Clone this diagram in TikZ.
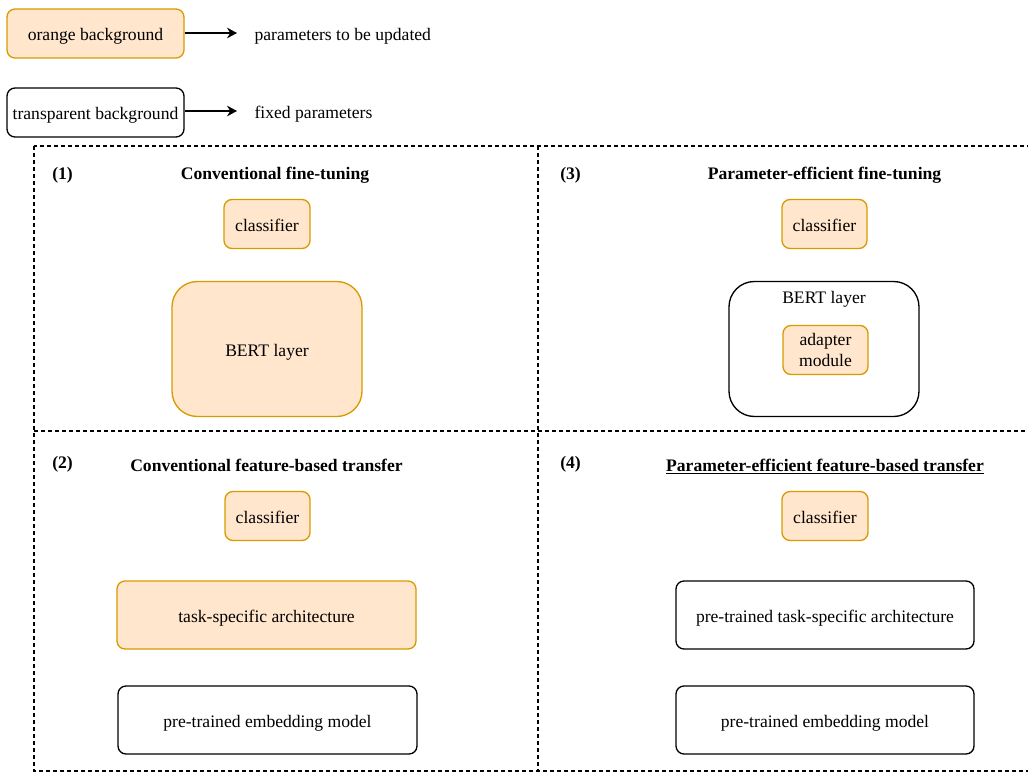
\documentclass[tikz,border=0pt]{standalone}
\usepackage{fontspec}
\setmainfont{Liberation Serif}
\usetikzlibrary{arrows.meta}
\definecolor{ofill}{HTML}{FFE6CC}
\definecolor{odraw}{HTML}{D79B00}
\tikzset{
  sz/.style 2 args={minimum width=#1*0.75pt, minimum height=#2*0.75pt},
  base/.style={draw, rounded corners=6pt, line width=1pt, inner sep=0pt, align=center,
    font=\fontsize{13.2}{15.5}\selectfont},
  oneline/.style={text height=11pt, text depth=0pt},
  orangebox/.style={base, oneline, fill=ofill, draw=odraw},
  plainbox/.style={base, oneline, fill=white, draw=black},
  twoline/.style={text height=, text depth=},
  bigcorner/.style={rounded corners=19pt},
  txt/.style={font=\fontsize{13.2}{15.5}\selectfont, inner sep=0pt, oneline},
  ttl/.style={font=\fontsize{13.2}{15.5}\selectfont\bfseries, inner sep=0pt, oneline},
  frame/.style={dash pattern=on 3pt off 2.25pt, line width=0.8pt},
  legarrow/.style={-{Stealth[length=7.5pt,width=8pt]}, line width=1pt},
}
\begin{document}
\begin{tikzpicture}[x=0.75pt,y=-0.75pt]
\useasboundingbox (0,0) rectangle (1028,774);
\clip (0,0) rectangle (1028,774);
% legend
\node[orangebox, sz={177}{49}] (leg1) at (95.5,33.5) {orange background};
\node[plainbox, sz={177}{49}] (leg2) at (95.5,112.5) {transparent background};
\node[txt, anchor=west, inner xsep=13pt] (t1) at (237,33) {parameters to be updated};
\node[txt, anchor=west, inner xsep=13pt] (t2) at (237,111) {fixed parameters};
\draw[legarrow] (leg1.east |- t1) -- (t1);
\draw[legarrow] (leg2.east |- t2) -- (t2);
% frame
\draw[frame] (34,146) rectangle (1045,771);
\coordinate (vtop) at (538,146);
\coordinate (vbot) at (538,771);
\coordinate (hl) at (34,431);
\coordinate (hr) at (1045,431);
\draw[frame] (vtop) -- (vbot);
\draw[frame] (hl) -- (hr);
% panel 1
\node[ttl, anchor=west] (n1) at (52,172) {(1)};
\node[ttl] (title1) at (275,172) {Conventional fine-tuning};
\node[orangebox, sz={86}{49}] (cls1) at (267,224) {classifier};
\node[orangebox, bigcorner, sz={190}{135}] (bert1) at (267,349) {BERT layer};
% panel 3
\node[ttl, anchor=west] (n3) at (560,172) {(3)};
\node[ttl] (title3) at (824.5,172) {Parameter-efficient fine-tuning};
\node[orangebox, sz={85}{49}] (cls3) at (824.5,224) {classifier};
\node[plainbox, bigcorner, sz={190}{135}] (bert3) at (824,349) {};
\node[txt] (bert3lbl) at (824,296) {BERT layer};
\node[base, fill=ofill, draw=odraw, sz={85}{49}, font=\fontsize{13.2}{15.5}\selectfont] (adapter) at (825.5,350) {adapter\\module};
% panel 2
\node[ttl, anchor=west] (n2) at (52,461) {(2)};
\node[ttl] (title2) at (266.5,464) {Conventional feature-based transfer};
\node[orangebox, sz={85}{49}] (cls2) at (267.5,516) {classifier};
\node[orangebox, sz={299}{68}] (task2) at (266.5,615) {task-specific architecture};
\node[plainbox, sz={299}{68}] (emb2) at (267.5,720) {pre-trained embedding model};
% panel 4
\node[ttl, anchor=west] (n4) at (560,461) {(4)};
\node[ttl] (title4) at (825,464) {\underline{Parameter-efficient feature-based transfer}};
\node[orangebox, sz={86}{49}] (cls4) at (825,516) {classifier};
\node[plainbox, sz={298}{68}] (task4) at (825,615) {pre-trained task-specific architecture};
\node[plainbox, sz={298}{68}] (emb4) at (825,720) {pre-trained embedding model};
\end{tikzpicture}
\end{document}
